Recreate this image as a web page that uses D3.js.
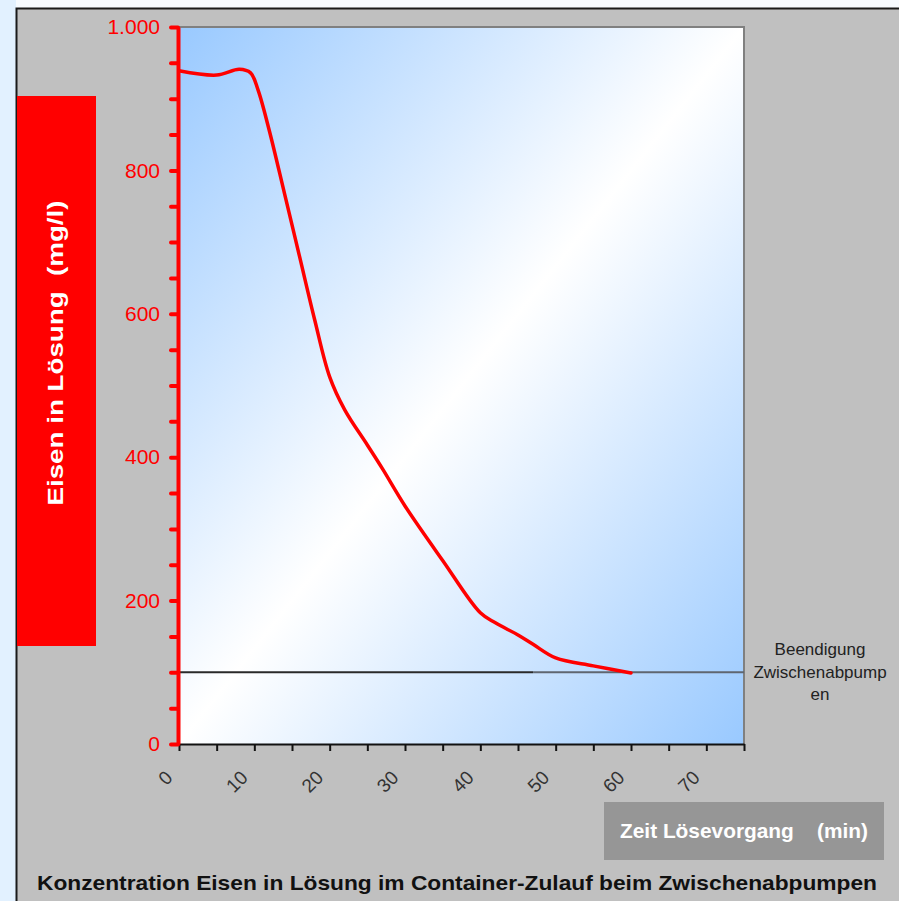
<!DOCTYPE html>
<html>
<head>
<meta charset="utf-8">
<script src="https://cdn.jsdelivr.net/npm/d3@7"></script>
<style>
  html, body { margin: 0; padding: 0; background: #f7fbff; }
  svg { display: block; font-family: "Liberation Sans", Arial, sans-serif; }
</style>
</head>
<body>
<svg id="chart" width="899" height="901"></svg>
<script>
// Dissolved iron over time during intermediate pumping
const minutes = [0, 5, 8, 9.5, 10.5, 12, 14, 16, 18, 20, 22, 25, 27, 30, 35, 40, 42, 45, 47, 50, 55, 60];
const ironMgL = [939, 933, 941, 936, 912, 855, 768, 680, 592, 512, 466, 417, 384, 332, 256, 183, 169, 152, 139, 120, 109, 99];

const yTickValues = [0, 200, 400, 600, 800, 1000];
const xTickLabels = [0, 10, 20, 30, 40, 50, 60, 70];

const thresholdValue = 100;       // end of intermediate pumping
const thresholdSplit = 47;        // line changes shade here
const thresholdLabel = ["Beendigung", "Zwischenabpump", "en"];

const yTitle = "Eisen in Lösung  (mg/l)";
const xTitle = "Zeit Lösevorgang    (min)";
const chartTitle = "Konzentration Eisen in Lösung im Container-Zulauf beim Zwischenabpumpen";

const de = d3.formatLocale({ decimal: ",", thousands: ".", grouping: [3], currency: ["", " €"] });
const fmt = de.format(",d");

const svg = d3.select("#chart");

// page edge and chart frame
svg.append("rect").attr("x", 0).attr("y", 0).attr("width", 16).attr("height", 901).attr("fill", "#e2f1ff");
svg.append("rect").attr("x", 16.5).attr("y", 8.5).attr("width", 900).attr("height", 900)
  .attr("fill", "#c0c0c0").attr("stroke", "#1a1a1a").attr("stroke-width", 2);

const x = d3.scaleLinear().domain([0, 75]).range([179, 744]);
const y = d3.scaleLinear().domain([0, 1000]).range([744, 27]);

// plot area background gradient
const defs = svg.append("defs");
const grad = defs.append("linearGradient").attr("id", "plotBg")
  .attr("x1", 0).attr("y1", 0).attr("x2", 1).attr("y2", 1);
grad.append("stop").attr("offset", 0).attr("stop-color", "#99c9ff");
grad.append("stop").attr("offset", 0.5).attr("stop-color", "#ffffff");
grad.append("stop").attr("offset", 1).attr("stop-color", "#99c9ff");

svg.append("rect")
  .attr("x", x(0)).attr("y", y(1000))
  .attr("width", x(75) - x(0)).attr("height", y(0) - y(1000))
  .attr("fill", "url(#plotBg)");

// top and right plot border
svg.append("path")
  .attr("d", `M${x(0)},${y(1000)}H${x(75)}V${y(0)}`)
  .attr("fill", "none").attr("stroke", "#808080").attr("stroke-width", 2);

// threshold line
svg.append("line")
  .attr("x1", x(0)).attr("x2", x(thresholdSplit))
  .attr("y1", y(thresholdValue)).attr("y2", y(thresholdValue))
  .attr("stroke", "#2a2a2a").attr("stroke-width", 2);
svg.append("line")
  .attr("x1", x(thresholdSplit)).attr("x2", x(75))
  .attr("y1", y(thresholdValue)).attr("y2", y(thresholdValue))
  .attr("stroke", "#5f6670").attr("stroke-width", 2);

const labelG = svg.append("g").attr("fill", "#222").attr("font-size", 17).attr("text-anchor", "middle");
thresholdLabel.forEach((t, i) => {
  labelG.append("text").attr("x", 820).attr("y", y(thresholdValue) - 17 + i * 22.5).text(t);
});

// x axis
const xAxis = d3.axisBottom(x)
  .tickValues(d3.range(0, 76, 5))
  .tickSize(7).tickSizeOuter(0)
  .tickFormat("");
const gx = svg.append("g").attr("transform", `translate(0,${y(0)})`).call(xAxis);
gx.select(".domain").attr("stroke", "#111").attr("stroke-width", 2);
gx.selectAll(".tick line").attr("stroke", "#111").attr("stroke-width", 2);

svg.append("g").selectAll("text").data(xTickLabels).join("text")
  .attr("transform", d => `translate(${x(d) - 10},${y(0) + 30}) rotate(-45)`)
  .attr("text-anchor", "end")
  .attr("dy", "0.35em")
  .attr("font-size", 19)
  .attr("fill", "#333")
  .text(d => d);

// y axis
const yAxis = d3.axisLeft(y)
  .tickValues(d3.range(0, 1001, 50))
  .tickSize(7).tickSizeOuter(0).tickPadding(11)
  .tickFormat(d => (d % 200 === 0 ? fmt(d) : ""));
const gy = svg.append("g").attr("transform", `translate(${x(0) - 1},0)`).call(yAxis);
gy.select(".domain").attr("stroke", "#ff0000").attr("stroke-width", 4);
gy.selectAll(".tick line").attr("stroke", "#ff0000").attr("stroke-width", 4).attr("stroke-linecap", "round");
gy.selectAll(".tick text").attr("fill", "#ff0000").attr("font-size", 21).attr("font-family", "Liberation Sans, Arial, sans-serif");

// concentration curve
const line = d3.line()
  .x((d, i) => x(minutes[i]))
  .y(d => y(d))
  .curve(d3.curveCatmullRom.alpha(0.5));
svg.append("path")
  .attr("d", line(ironMgL))
  .attr("fill", "none")
  .attr("stroke", "#ff0000")
  .attr("stroke-width", 3.5)
  .attr("stroke-linecap", "round")
  .attr("stroke-linejoin", "round");

// y axis title box
svg.append("rect").attr("x", 17).attr("y", 96).attr("width", 79).attr("height", 550).attr("fill", "#ff0000");
svg.append("text")
  .attr("transform", "translate(63,353) rotate(-90)")
  .attr("text-anchor", "middle")
  .attr("fill", "#fff").attr("font-weight", "bold").attr("font-size", 22)
  .attr("textLength", 305).attr("lengthAdjust", "spacingAndGlyphs")
  .style("white-space", "pre")
  .text(yTitle);

// x axis title box
svg.append("rect").attr("x", 604).attr("y", 802).attr("width", 280).attr("height", 58).attr("fill", "#969696");
svg.append("text")
  .attr("x", 744).attr("y", 838)
  .attr("text-anchor", "middle")
  .attr("fill", "#fff").attr("font-weight", "bold").attr("font-size", 20.5)
  .attr("textLength", 248).attr("lengthAdjust", "spacingAndGlyphs")
  .style("white-space", "pre")
  .text(xTitle);

// chart title
svg.append("text")
  .attr("x", 457).attr("y", 890)
  .attr("text-anchor", "middle")
  .attr("fill", "#111").attr("font-weight", "bold").attr("font-size", 21)
  .attr("textLength", 840).attr("lengthAdjust", "spacingAndGlyphs")
  .text(chartTitle);
</script>
</body>
</html>
